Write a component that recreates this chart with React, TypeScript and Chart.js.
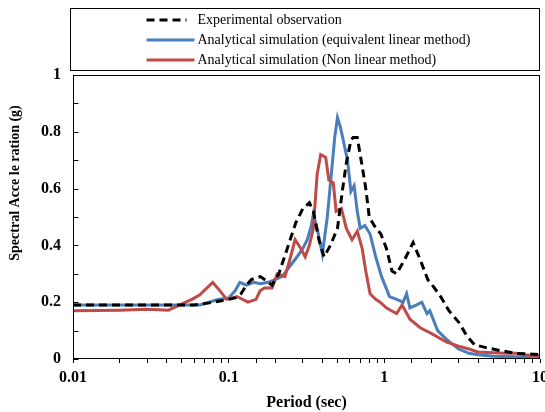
import React, { useEffect, useRef } from 'react';
import { Chart, registerables } from 'chart.js';

Chart.register(...registerables);

const seriesLabels = [
  'Experimental observation',
  'Analytical simulation (equivalent linear method)',
  'Analytical simulation (Non linear method)',
];

const yAxisTitle = 'Spectral Acce le ration (g)';
const xAxisTitle = 'Period (sec)';

const expPeriods = [0.01, 0.02, 0.04, 0.06, 0.07, 0.08, 0.09, 0.1, 0.11, 0.12, 0.13, 0.14, 0.16, 0.175, 0.19, 0.21, 0.235, 0.27, 0.3, 0.33, 0.35, 0.38, 0.41, 0.45, 0.5, 0.54, 0.57, 0.61, 0.63, 0.67, 0.72, 0.76, 0.8, 0.86, 0.95, 1.03, 1.12, 1.2, 1.35, 1.53, 1.7, 1.9, 2.1, 2.3, 2.6, 3.0, 3.4, 3.8, 4.5, 5.5, 7, 8.5, 10];
const expValues = [0.19, 0.19, 0.19, 0.19, 0.195, 0.2, 0.205, 0.21, 0.215, 0.23, 0.26, 0.28, 0.29, 0.275, 0.26, 0.3, 0.38, 0.48, 0.53, 0.55, 0.52, 0.42, 0.36, 0.4, 0.46, 0.6, 0.69, 0.77, 0.78, 0.78, 0.68, 0.6, 0.5, 0.47, 0.44, 0.39, 0.31, 0.3, 0.35, 0.41, 0.35, 0.28, 0.25, 0.22, 0.17, 0.13, 0.08, 0.05, 0.04, 0.03, 0.02, 0.018, 0.015];

const eqPeriods = [0.01, 0.03, 0.05, 0.065, 0.075, 0.085, 0.1, 0.11, 0.118, 0.13, 0.145, 0.16, 0.18, 0.2, 0.22, 0.25, 0.275, 0.3, 0.32, 0.34, 0.35, 0.37, 0.4, 0.43, 0.46, 0.48, 0.5, 0.52, 0.54, 0.58, 0.61, 0.64, 0.67, 0.7, 0.75, 0.81, 0.88, 0.96, 1.08, 1.2, 1.32, 1.39, 1.46, 1.6, 1.74, 1.88, 1.96, 2.2, 2.5, 3.0, 3.5, 4.0, 5, 7, 10];
const eqValues = [0.19, 0.19, 0.19, 0.19, 0.2, 0.21, 0.215, 0.24, 0.27, 0.26, 0.27, 0.265, 0.27, 0.28, 0.29, 0.33, 0.36, 0.39, 0.42, 0.47, 0.51, 0.46, 0.37, 0.5, 0.67, 0.78, 0.85, 0.82, 0.78, 0.7, 0.59, 0.61, 0.52, 0.46, 0.47, 0.44, 0.36, 0.29, 0.22, 0.21, 0.2, 0.23, 0.18, 0.19, 0.2, 0.16, 0.17, 0.1, 0.07, 0.035, 0.02, 0.015, 0.01, 0.008, 0.005];

const nlPeriods = [0.01, 0.02, 0.03, 0.041, 0.051, 0.058, 0.065, 0.079, 0.088, 0.097, 0.113, 0.133, 0.15, 0.159, 0.17, 0.19, 0.205, 0.23, 0.25, 0.267, 0.29, 0.31, 0.33, 0.35, 0.37, 0.39, 0.42, 0.44, 0.47, 0.49, 0.53, 0.57, 0.62, 0.67, 0.72, 0.76, 0.81, 0.88, 0.94, 1.03, 1.11, 1.2, 1.3, 1.46, 1.7, 2.0, 2.5, 3.0, 3.5, 4, 5, 6, 7, 8, 10];
const nlValues = [0.17, 0.172, 0.175, 0.172, 0.196, 0.21, 0.225, 0.27, 0.24, 0.21, 0.22, 0.2, 0.21, 0.24, 0.25, 0.25, 0.3, 0.29, 0.36, 0.42, 0.39, 0.36, 0.4, 0.46, 0.65, 0.72, 0.71, 0.63, 0.62, 0.52, 0.53, 0.46, 0.42, 0.45, 0.39, 0.31, 0.23, 0.21, 0.2, 0.18, 0.17, 0.16, 0.19, 0.14, 0.11, 0.09, 0.06, 0.045, 0.035, 0.025, 0.022, 0.02, 0.02, 0.015, 0.01];

const xTickValues = [0.01, 0.1, 1, 10];
const xTickLabels = ['0.01', '0.1', '1', '10'];
const yTickValues = [0, 0.2, 0.4, 0.6, 0.8, 1];
const yTickLabels = ['0', '0.2', '0.4', '0.6', '0.8', '1'];

const FONT = '"Liberation Serif", "Times New Roman", serif';

const framePlugin = {
  id: 'frameAndLegend',
  afterDraw(chart: any) {
    const { ctx, chartArea: a } = chart;
    ctx.save();
    ctx.strokeStyle = '#000';
    ctx.lineWidth = 1;
    const L = Math.round(a.left) + 0.5;
    const R = Math.round(a.right) - 0.5;
    const T = Math.round(a.top) + 0.5;
    const B = Math.round(a.bottom) - 0.5;
    ctx.strokeRect(L, T, R - L, B - T);
    // inward y ticks
    const ys = chart.scales.y;
    ys.ticks.forEach((t: any) => {
      const y = Math.round(ys.getPixelForValue(t.value)) + 0.5;
      ctx.beginPath();
      ctx.moveTo(L, y);
      ctx.lineTo(L + 5, y);
      ctx.stroke();
    });
    // y axis title
    ctx.save();
    ctx.translate(15.5, 183);
    ctx.rotate(-Math.PI / 2);
    ctx.fillStyle = '#000';
    ctx.font = `bold 14px ${FONT}`;
    ctx.textAlign = 'center';
    ctx.textBaseline = 'middle';
    ctx.fillText(yAxisTitle, 0, 0);
    ctx.restore();
    // legend box
    const boxL = L - 3;
    const boxT = 8.5;
    const boxB = T - 5;
    ctx.strokeRect(boxL, boxT, R - boxL, boxB - boxT);
    const rows = [20, 40, 60];
    chart.data.datasets.forEach((ds: any, i: number) => {
      const y = rows[i];
      ctx.save();
      ctx.strokeStyle = ds.borderColor;
      ctx.lineWidth = 3;
      ctx.setLineDash(ds.borderDash || []);
      ctx.beginPath();
      ctx.moveTo(L + 73, y);
      ctx.lineTo(L + (ds.borderDash ? 113 : 121), y);
      ctx.stroke();
      ctx.restore();
      ctx.fillStyle = '#000';
      ctx.font = `14px ${FONT}`;
      ctx.textBaseline = 'middle';
      ctx.textAlign = 'left';
      ctx.fillText(ds.label, L + 124, y);
    });
    ctx.restore();
  },
};

export default function App() {
  const ref = useRef<HTMLCanvasElement>(null);
  useEffect(() => {
    document.body.style.margin = '0';
    const toPts = (xs: number[], ys: number[]) => xs.map((x, i) => ({ x, y: ys[i] }));
    const chart = new Chart(ref.current as HTMLCanvasElement, {
      type: 'line',
      data: {
        datasets: [
          {
            label: seriesLabels[0],
            data: toPts(expPeriods, expValues),
            borderColor: '#000000',
            borderDash: [8, 5],
            borderWidth: 3,
            pointRadius: 0,
            tension: 0,
            order: 0,
          },
          {
            label: seriesLabels[1],
            data: toPts(eqPeriods, eqValues),
            borderColor: '#4A7EBB',
            borderWidth: 3,
            pointRadius: 0,
            tension: 0,
            order: 2,
          },
          {
            label: seriesLabels[2],
            data: toPts(nlPeriods, nlValues),
            borderColor: '#BE4B48',
            borderWidth: 3,
            pointRadius: 0,
            tension: 0,
            order: 1,
          },
        ],
      },
      options: {
        responsive: false,
        animation: false,
        layout: { padding: { top: 75, right: 5, left: 0, bottom: 0 } },
        plugins: { legend: { display: false }, tooltip: { enabled: false } },
        scales: {
          x: {
            type: 'logarithmic',
            min: 0.01,
            max: 10,
            border: { display: false },
            grid: { drawOnChartArea: false, drawTicks: true, tickLength: 4, color: '#000' },
            ticks: {
              autoSkip: false,
              maxRotation: 0,
              padding: 5,
              color: '#000',
              font: { family: FONT, size: 16, weight: 'bold' },
              callback: (v: any) => {
                const i = xTickValues.findIndex((t) => Math.abs(Number(v) - t) / t < 1e-6);
                return i >= 0 ? xTickLabels[i] : '';
              },
            },
            title: {
              display: true,
              text: xAxisTitle,
              color: '#000',
              font: { family: FONT, size: 16, weight: 'bold' },
              padding: { top: 0, bottom: 0 },
            },
            afterFit: (s: any) => {
              s.height = 53;
              s.paddingLeft = 0;
              s.paddingRight = 0;
            },
          },
          y: {
            min: 0,
            max: 1,
            border: { display: false },
            grid: { display: false, drawTicks: false },
            ticks: {
              stepSize: 0.1,
              autoSkip: false,
              padding: 12,
              color: '#000',
              font: { family: FONT, size: 16, weight: 'bold' },
              callback: (v: any) => {
                const i = yTickValues.findIndex((t) => Math.abs(Number(v) - t) < 1e-6);
                return i >= 0 ? yTickLabels[i] : '';
              },
            },
            title: { display: false },
            afterFit: (s: any) => {
              s.width = 73;
              s.paddingTop = 0;
              s.paddingBottom = 0;
            },
          },
        },
      },
      plugins: [framePlugin],
    } as any);
    return () => chart.destroy();
  }, []);
  return (
    <div style={{ width: 545, height: 412 }}>
      <canvas ref={ref} width={545} height={412} />
    </div>
  );
}
